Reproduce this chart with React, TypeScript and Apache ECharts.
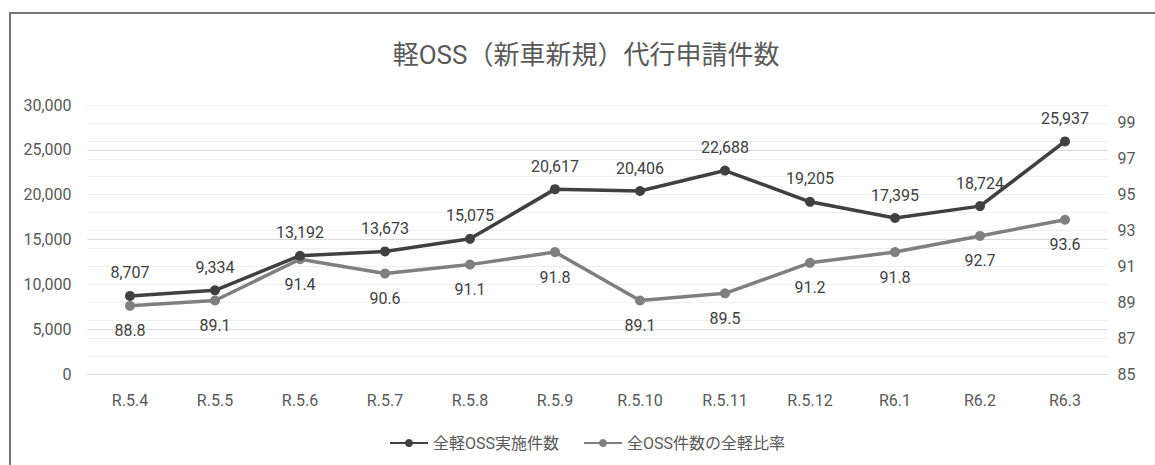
import React, { useEffect, useRef } from "react";
import * as echarts from "echarts";

const categories = ["R.5.4", "R.5.5", "R.5.6", "R.5.7", "R.5.8", "R.5.9", "R.5.10", "R.5.11", "R.5.12", "R6.1", "R6.2", "R6.3"];
const totalCounts = [8707, 9334, 13192, 13673, 15075, 20617, 20406, 22688, 19205, 17395, 18724, 25937];
const ratios = [88.8, 89.1, 91.4, 90.6, 91.1, 91.8, 89.1, 89.5, 91.2, 91.8, 92.7, 93.6];
const seriesNames = ["全軽OSS実施件数", "全OSS件数の全軽比率"];
const title = "軽OSS（新車新規）代行申請件数";

const FONT = "Roboto, 'Noto Sans CJK JP', sans-serif";

export default function App() {
  const ref = useRef<HTMLDivElement>(null);
  useEffect(() => {
    if (!ref.current) return;
    const chart = echarts.init(ref.current, undefined, { renderer: "svg" });
    chart.setOption({
      animation: false,
      textStyle: { fontFamily: FONT },
      legend: {
        top: 430,
        left: 384,
        itemWidth: 38,
        itemHeight: 10,
        itemGap: 24,
        textStyle: { fontFamily: FONT, fontSize: 16, color: "#595959" },
        data: seriesNames,
      },
      graphic: [
        {
          type: "rect",
          shape: { x: 10, y: 13, width: 1300, height: 600 },
          style: { fill: "none", stroke: "#767676", lineWidth: 2 },
          silent: true,
        },
        {
          type: "text",
          x: 586,
          y: 55,
          style: {
            text: title,
            fontFamily: FONT,
            fontSize: 26,
            fill: "#595959",
            textAlign: "center",
            textVerticalAlign: "middle",
          },
        },
      ],
      grid: { left: 87.5, top: 105, width: 1020, height: 269, containLabel: false },
      xAxis: {
        type: "category",
        data: categories,
        axisLine: { lineStyle: { color: "#d9d9d9" } },
        axisTick: { show: false },
        axisLabel: { color: "#595959", fontSize: 16, margin: 18, fontFamily: FONT },
      },
      yAxis: [
        {
          type: "value",
          min: 0,
          max: 30000,
          interval: 5000,
          axisLine: { show: false },
          axisTick: { show: false },
          splitLine: { lineStyle: { color: "#d9d9d9" } },
          axisLabel: {
            color: "#595959",
            fontSize: 16,
            margin: 16,
            fontFamily: FONT,
            formatter: (v: number) => v.toLocaleString("en-US"),
          },
        },
        {
          type: "value",
          min: 85,
          max: 100,
          interval: 1,
          axisLine: { show: false },
          axisTick: { show: false },
          splitLine: { lineStyle: { color: "#efefef" } },
          axisLabel: {
            color: "#595959",
            fontSize: 16,
            margin: 10,
            fontFamily: FONT,
            formatter: (v: number) => ((v - 85) % 2 === 0 && v < 100 ? String(v) : ""),
          },
        },
      ],
      series: [
        {
          name: seriesNames[0],
          type: "line",
          yAxisIndex: 0,
          data: totalCounts,
          symbol: "circle",
          symbolSize: 10,
          z: 3,
          lineStyle: { color: "#404040", width: 3.5 },
          itemStyle: { color: "#404040" },
          label: {
            show: true,
            position: "top",
            distance: 10,
            color: "#404040",
            fontSize: 16,
            fontFamily: FONT,
            formatter: (p: any) => Number(p.value).toLocaleString("en-US"),
          },
        },
        {
          name: seriesNames[1],
          type: "line",
          yAxisIndex: 1,
          data: ratios,
          symbol: "circle",
          symbolSize: 10,
          z: 2,
          lineStyle: { color: "#7f7f7f", width: 3.5 },
          itemStyle: { color: "#7f7f7f" },
          label: {
            show: true,
            position: "bottom",
            distance: 12,
            color: "#404040",
            fontSize: 16,
            fontFamily: FONT,
            formatter: (p: any) => Number(p.value).toFixed(1),
          },
        },
      ],
    });
    return () => chart.dispose();
  }, []);
  return (
    <div
      ref={ref}
      style={{ position: "absolute", left: 0, top: 0, width: 1155, height: 465, background: "#ffffff" }}
    />
  );
}
